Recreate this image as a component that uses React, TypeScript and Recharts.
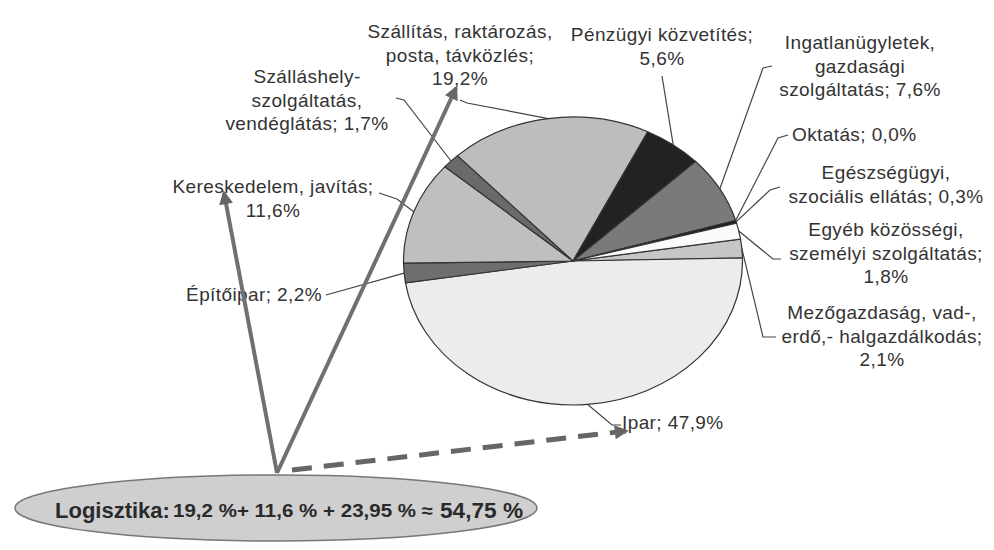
import { PieChart, Pie, Cell } from "recharts";

// ágazatok (adatsorrend = Excel sorrend, az óramutató járásával megegyezően)
const categories = [
  "Mezőgazdaság, vad-,\nerdő,- halgazdálkodás",
  "Ipar",
  "Építőipar",
  "Kereskedelem, javítás",
  "Szálláshely-\nszolgáltatás,\nvendéglátás",
  "Szállítás, raktározás,\nposta, távközlés",
  "Pénzügyi közvetítés",
  "Ingatlanügyletek,\ngazdasági\nszolgáltatás",
  "Oktatás",
  "Egészségügyi,\nszociális ellátás",
  "Egyéb közösségi,\nszemélyi szolgáltatás",
];
const shares = [2.1, 47.9, 2.2, 11.6, 1.7, 19.2, 5.6, 7.6, 0.0, 0.3, 1.8];
const colors = [
  "#c6c6c6", "#ececec", "#6e6e6e", "#bfbfbf", "#6a6a6a", "#bdbdbd",
  "#222222", "#7a7a7a", "#222222", "#1c1c1c", "#fafafa",
];

const data = categories.map((name, i) => ({ name, value: shares[i] }));

// pie is drawn as an ellipse: horizontal stretch
const CX = 573;
const CY = 261;
const R = 144;
const KX = 169.5 / 144;

// label placement (layout only)
type LabelPos = { x: number; y: number; anchor: "start" | "middle" | "end"; newLine: boolean; path: number[][] };
const labelLayout: LabelPos[] = [
  { x: 882, y: 319, anchor: "middle", newLine: true, path: [[763, 337], [776, 337]] },
  { x: 622, y: 429, anchor: "start", newLine: false, path: [[612, 425], [621, 425]] },
  { x: 322, y: 301, anchor: "end", newLine: false, path: [[326, 295]] },
  { x: 273, y: 193, anchor: "middle", newLine: true, path: [[397, 199], [379, 193]] },
  { x: 307, y: 83, anchor: "middle", newLine: false, path: [[404, 100], [396, 98]] },
  { x: 460, y: 38, anchor: "middle", newLine: true, path: [[467, 103], [460, 100]] },
  { x: 662, y: 41, anchor: "middle", newLine: true, path: [[662, 76]] },
  { x: 860, y: 49, anchor: "middle", newLine: false, path: [[763, 68], [772, 66]] },
  { x: 792, y: 141, anchor: "start", newLine: false, path: [[778, 138], [788, 135]] },
  { x: 886, y: 179, anchor: "middle", newLine: false, path: [[770, 190], [780, 187]] },
  { x: 886, y: 236, anchor: "middle", newLine: true, path: [[773, 259], [781, 259]] },
];

const fmt = (v: number, d = 1) => v.toFixed(d).replace(".", ",");

const renderLabel = (p: any) => {
  const { cx, cy, midAngle, outerRadius, index } = p;
  const L = labelLayout[index];
  const rad = (midAngle * Math.PI) / 180;
  const sx = cx + outerRadius * KX * Math.cos(rad);
  const sy = cy - outerRadius * Math.sin(rad);
  const pts = [[sx, sy], ...L.path].map((q) => q.join(",")).join(" ");
  const parts = categories[index].split("\n");
  const last = parts[parts.length - 1];
  const val = fmt(shares[index]) + "%";
  const lines = L.newLine
    ? [...parts.slice(0, -1), last + ";", val]
    : [...parts.slice(0, -1), `${last}; ${val}`];
  return (
    <g key={`lbl-${index}`}>
      <polyline points={pts} fill="none" stroke="#444" strokeWidth={1.2} />
      <text
        x={L.x}
        y={L.y}
        textAnchor={L.anchor}
        fontFamily="Liberation Sans, Arial, sans-serif"
        fontSize={19}
        letterSpacing={0.4}
        fill="#333"
      >
        {lines.map((t, i) => (
          <tspan key={i} x={L.x} dy={i === 0 ? 0 : 23.5}>
            {t}
          </tspan>
        ))}
      </text>
    </g>
  );
};

// Logisztika = szállítás + kereskedelem + fél ipar
const logSum = shares[5] + shares[3] + shares[1] / 2;

export default function App() {
  return (
    <div style={{ position: "relative", width: 994, height: 550, background: "#fff" }}>
      <style>{`body{margin:0}
        path.recharts-sector{transform-origin:${CX}px ${CY}px;transform:scale(${KX},1);vector-effect:non-scaling-stroke;}`}</style>
      <PieChart width={994} height={550} margin={{ top: 0, right: 0, bottom: 0, left: 0 }}>
        <Pie
          data={data}
          dataKey="value"
          nameKey="name"
          cx={CX}
          cy={CY}
          outerRadius={R}
          startAngle={8.76}
          endAngle={-351.24}
          stroke="#333"
          strokeWidth={1.2}
          labelLine={false}
          label={renderLabel}
          isAnimationActive={false}
        >
          {data.map((_, i) => (
            <Cell key={i} fill={colors[i]} />
          ))}
        </Pie>
      </PieChart>
      <svg
        width={994}
        height={550}
        style={{ position: "absolute", left: 0, top: 0, pointerEvents: "none" }}
      >
        <defs>
          <marker id="ah" viewBox="0 0 10 10" refX="8" refY="5" markerWidth="15" markerHeight="14" markerUnits="userSpaceOnUse" orient="auto">
            <path d="M0,0 L10,5 L0,10 z" fill="#666" />
          </marker>
        </defs>
        <line x1={277} y1={473} x2={224} y2={193} stroke="#707070" strokeWidth={4} markerEnd="url(#ah)" />
        <line x1={277} y1={473} x2={456} y2={88} stroke="#707070" strokeWidth={4} markerEnd="url(#ah)" />
        <line x1={292} y1={470} x2={626} y2={431} stroke="#666" strokeWidth={5} strokeDasharray="20 12" markerEnd="url(#ah)" />
        <ellipse cx={276} cy={508} rx={261} ry={33} fill="#cfcfcf" stroke="#777" strokeWidth={1.5} />
        <text x={55} y={518} fontFamily="Liberation Sans, Arial, sans-serif" fontWeight="bold" fontSize={22} fill="#2a2a2a">
          Logisztika:
        </text>
        <text x={173} y={517} fontFamily="Liberation Sans, Arial, sans-serif" fontWeight="bold" fontSize={18} fill="#2a2a2a" textLength={260} lengthAdjust="spacingAndGlyphs">
          {`${fmt(shares[5])} %+ ${fmt(shares[3])} % + ${fmt(shares[1] / 2, 2)} % ≈`}
        </text>
        <text x={440} y={518} fontFamily="Liberation Sans, Arial, sans-serif" fontWeight="bold" fontSize={22} fill="#2a2a2a" textLength={83} lengthAdjust="spacingAndGlyphs">
          {`${fmt(logSum, 2)} %`}
        </text>
      </svg>
    </div>
  );
}
